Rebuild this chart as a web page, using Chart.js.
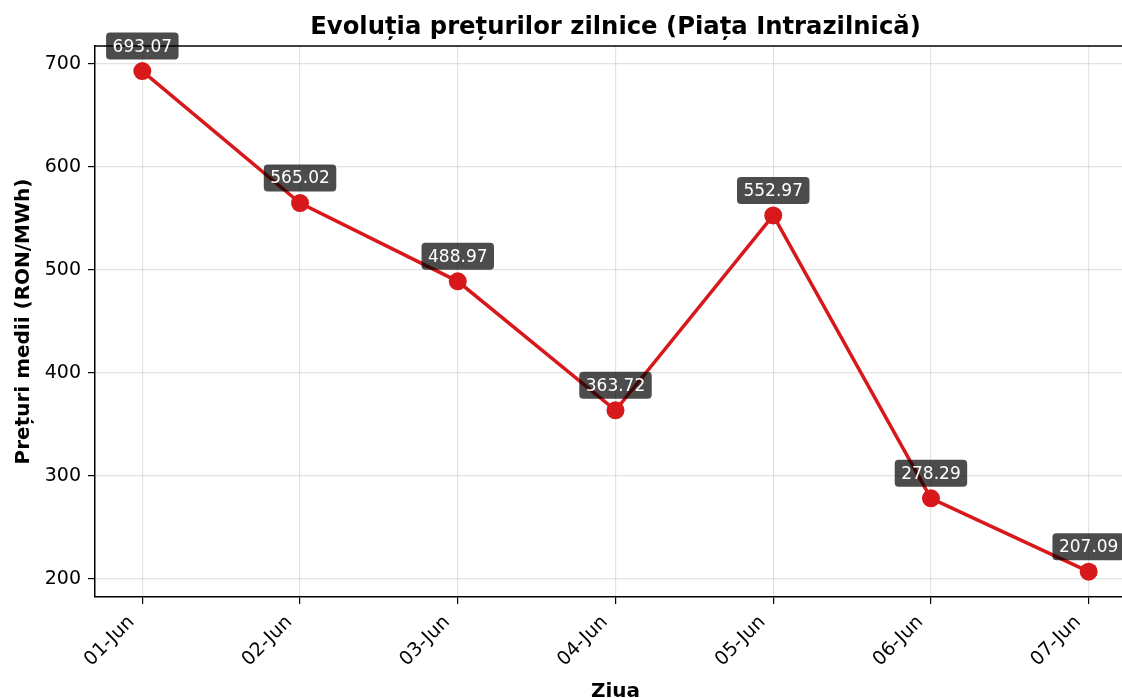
<!DOCTYPE html>
<html>
<head>
<meta charset="utf-8">
<script src="https://cdn.jsdelivr.net/npm/chart.js@4"></script>
<style>
  html, body { margin: 0; padding: 0; background: #fff; overflow: hidden; }
  #wrap { width: 1150px; height: 698px; }
</style>
</head>
<body>
<div id="wrap"><canvas id="price-chart" width="1150" height="698"></canvas></div>
<script>
const days = ['01-Jun', '02-Jun', '03-Jun', '04-Jun', '05-Jun', '06-Jun', '07-Jun'];
const prices = [693.07, 565.02, 488.97, 363.72, 552.97, 278.29, 207.09];
const yTicks = [200, 300, 400, 500, 600, 700];

const FONT = 'DejaVu Sans';
const canvas = document.getElementById('price-chart');

// top spine + rotated day labels (matplotlib style, right/top anchored)
const axisExtras = {
  id: 'axisExtras',
  beforeDatasetsDraw(chart) {
    const ctx = chart.ctx;
    const a = chart.chartArea;
    ctx.save();
    ctx.strokeStyle = '#000';
    ctx.lineWidth = 1.5;
    ctx.beginPath();
    ctx.moveTo(a.left, a.top);
    ctx.lineTo(a.right, a.top);
    ctx.stroke();

    const xs = chart.scales.x;
    ctx.fillStyle = '#000';
    ctx.font = '19px "' + FONT + '"';
    ctx.textAlign = 'right';
    ctx.textBaseline = 'top';
    days.forEach((d, i) => {
      const px = xs.getPixelForValue(i);
      ctx.save();
      ctx.translate(px - 17.5, a.bottom + 15.5);
      ctx.rotate(-Math.PI / 4);
      ctx.fillText(d, 0, 0);
      ctx.restore();
    });
    ctx.restore();
  }
};

// value boxes above each point
const pointLabels = {
  id: 'pointLabels',
  afterDatasetsDraw(chart) {
    const ctx = chart.ctx;
    const meta = chart.getDatasetMeta(0);
    ctx.save();
    ctx.font = '17px "' + FONT + '"';
    ctx.textAlign = 'center';
    ctx.textBaseline = 'middle';
    meta.data.forEach((pt, i) => {
      const text = prices[i].toFixed(2);
      const w = ctx.measureText(text).width + 13;
      const h = 27;
      const cx = pt.x;
      const cy = pt.y - 25;
      ctx.fillStyle = 'rgba(0,0,0,0.7)';
      ctx.beginPath();
      ctx.roundRect(cx - w / 2, cy - h / 2, w, h, 4);
      ctx.fill();
      ctx.fillStyle = '#fff';
      ctx.fillText(text, cx, cy + 1);
    });
    ctx.restore();
  }
};

new Chart(canvas, {
  type: 'line',
  data: {
    datasets: [{
      data: prices.map((p, i) => ({ x: i, y: p })),
      borderColor: '#d7191c',
      backgroundColor: '#d7191c',
      borderWidth: 3.5,
      pointRadius: 9,
      pointBorderWidth: 0,
      tension: 0
    }]
  },
  options: {
    responsive: false,
    animation: false,
    layout: { padding: { left: 0, top: 0, right: 14, bottom: 0 } },
    plugins: {
      legend: { display: false },
      tooltip: { enabled: false },
      title: {
        display: true,
        fullSize: false,
        text: 'Evoluția prețurilor zilnice (Piața Intrazilnică)',
        color: '#000',
        font: { family: FONT, size: 24.3, weight: 'bold', lineHeight: 1.2 },
        padding: { top: 13.5, bottom: 3.3 }
      }
    },
    scales: {
      x: {
        type: 'linear',
        min: -0.3,
        max: 6.3,
        afterBuildTicks: s => { s.ticks = days.map((d, i) => ({ value: i })); },
        afterFit: s => { s.height = 101; },
        ticks: { display: false },
        grid: { color: 'rgba(0,0,0,0.11)', tickColor: '#000', tickLength: 7, lineWidth: 1.2 },
        border: { display: true, color: '#000', width: 1.5 },
        title: {
          display: true,
          text: 'Ziua',
          color: '#000',
          font: { family: FONT, size: 20, weight: 'bold', lineHeight: 0.64 },
          padding: { top: 0, bottom: 0 }
        }
      },
      y: {
        min: 182.5,
        max: 717.5,
        afterBuildTicks: s => { s.ticks = yTicks.map(v => ({ value: v })); },
        afterFit: s => { s.width = 95; },
        ticks: {
          padding: 7,
          color: '#000',
          font: { family: FONT, size: 19 }
        },
        grid: { color: 'rgba(0,0,0,0.11)', tickColor: '#000', tickLength: 7, lineWidth: 1.2 },
        border: { display: true, color: '#000', width: 1.5 },
        title: {
          display: true,
          text: 'Prețuri medii (RON/MWh)',
          color: '#000',
          font: { family: FONT, size: 20, weight: 'bold', lineHeight: 1.2 },
          padding: { top: 12, bottom: 0 }
        }
      }
    }
  },
  plugins: [axisExtras, pointLabels]
});
</script>
</body>
</html>
